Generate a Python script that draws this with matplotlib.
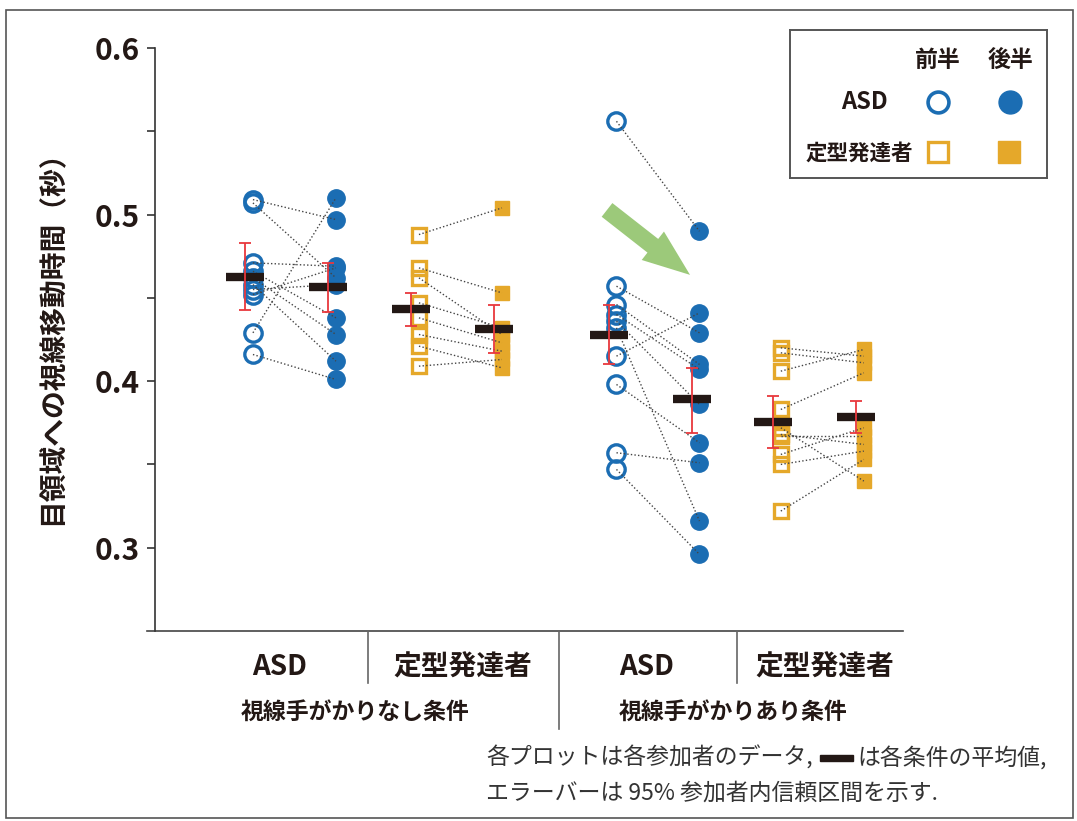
import numpy as np
import matplotlib
matplotlib.use('Agg')
import matplotlib.pyplot as plt
from matplotlib.patches import Rectangle
from matplotlib.transforms import blended_transform_factory

plt.rcParams['font.family'] = ['Noto Sans CJK JP', 'DejaVu Sans']

# gaze shift time to the eye region (sec); pre[i] and post[i] are the same participant
asd_none_pre = [0.509, 0.507, 0.471, 0.466, 0.462, 0.458, 0.452, 0.429, 0.416, 0.455]
asd_none_post = [0.497, 0.462, 0.469, 0.438, 0.428, 0.412, 0.468, 0.510, 0.401, 0.458]
td_none_pre = [0.488, 0.468, 0.462, 0.447, 0.438, 0.428, 0.421, 0.409]
td_none_post = [0.504, 0.453, 0.428, 0.432, 0.423, 0.418, 0.408, 0.413]
asd_cue_pre = [0.556, 0.457, 0.446, 0.440, 0.436, 0.432, 0.415, 0.398, 0.357, 0.347]
asd_cue_post = [0.490, 0.429, 0.410, 0.407, 0.386, 0.316, 0.441, 0.363, 0.351, 0.296]
td_cue_pre = [0.420, 0.417, 0.406, 0.383, 0.372, 0.367, 0.356, 0.350, 0.322, 0.368]
td_cue_post = [0.415, 0.411, 0.419, 0.405, 0.340, 0.367, 0.372, 0.358, 0.353, 0.362]

group_labels = ['ASD', '定型発達者', 'ASD', '定型発達者']
condition_labels = ['視線手がかりなし条件', '視線手がかりあり条件']

# condition means and 95% within-participant CI
mean_pre = [0.4626, 0.4434, 0.428, 0.3756]
mean_post = [0.4566, 0.4314, 0.389, 0.3786]
ci_pre_low = [0.443, 0.433, 0.410, 0.360]
ci_pre_high = [0.483, 0.453, 0.446, 0.391]
ci_post_low = [0.4416, 0.417, 0.369, 0.369]
ci_post_high = [0.471, 0.4458, 0.408, 0.388]

yticks = [0.3, 0.4, 0.5, 0.6]
yminor = [0.35, 0.45, 0.55]

BLUE = '#1b6db3'
GOLD = '#e5a82a'
DARK = '#231815'
RED = '#e8383d'
GREEN = '#9cc97a'

pre_vals = [asd_none_pre, td_none_pre, asd_cue_pre, td_cue_pre]
post_vals = [asd_none_post, td_none_post, asd_cue_post, td_cue_post]
centers = [0, 1, 2.19, 3.18]
colors = [BLUE, GOLD, BLUE, GOLD]
markers = ['o', 's', 'o', 's']
msizes = [12.5, 9.5, 12.5, 9.5]

W, H = 1077, 821
fig = plt.figure(figsize=(W / 100, H / 100), dpi=100)
ax = fig.add_axes([155 / W, 1 - 631 / H, 748 / W, 583 / H])

for g in range(4):
    xa = centers[g] - 0.25
    xb = centers[g] + 0.25
    pre = pre_vals[g]
    post = post_vals[g]
    ax.plot([xa] * len(pre), pre, ls='none', marker=markers[g], ms=msizes[g],
            mfc='none', mec=colors[g], mew=2.4, zorder=2)
    ax.plot([xb] * len(post), post, ls='none', marker=markers[g], ms=msizes[g],
            mfc=colors[g], mec=colors[g], mew=1, zorder=2)
    for a, b in zip(pre, post):
        ax.plot([xa, xb], [a, b], ls=(0, (1, 1.6)), lw=1, color='#444444', zorder=3)

    for x, m, lo, hi in [(xa, mean_pre[g], ci_pre_low[g], ci_pre_high[g]),
                         (xb, mean_post[g], ci_post_low[g], ci_post_high[g])]:
        xm = x - 0.048
        ax.plot([xm], [m], marker='_', ms=27, mew=6, color=DARK, zorder=4)
        ax.errorbar([xm], [m], yerr=[[m - lo], [hi - m]], fmt='none', ecolor=RED,
                    elinewidth=1.3, capsize=4, capthick=1.3, zorder=5)

ax.set_xlim(-0.840, 3.666)
ax.set_ylim(0.25, 0.6)
ax.set_xticks([])
ax.set_yticks(yticks)
ax.set_yticks(yminor, minor=True)
ax.set_yticklabels([f'{v:.1f}' for v in yticks], fontsize=21.5, fontweight='bold')
ax.tick_params(axis='y', which='both', direction='out', length=6, width=1.2,
               colors='#333333', pad=5)
ax.tick_params(axis='y', labelcolor=DARK)
for s in ['top', 'right', 'bottom']:
    ax.spines[s].set_visible(False)
ax.spines['left'].set_color('#333333')
ax.spines['left'].set_linewidth(1.2)

# baseline and group separators below the plot
ax.plot([-0.011, 1], [0, 0], transform=ax.transAxes, clip_on=False, color='#444444', lw=1.2)
bt = blended_transform_factory(ax.transData, ax.transAxes)
for x, depth in [(0.443, 0.089), (1.593, 0.168), (2.666, 0.089)]:
    ax.plot([x, x], [0, -depth], transform=bt, clip_on=False, color='#666666', lw=1.2)

for x, lab in zip([-0.087, 1.015, 2.123, 3.195], group_labels):
    ax.text(x, -0.062, lab, transform=bt, ha='center', va='center',
            fontsize=20, fontweight='bold', color=DARK)
for x, lab in zip([0.364, 2.641], condition_labels):
    ax.text(x, -0.139, lab, transform=bt, ha='center', va='center',
            fontsize=16.5, fontweight='bold', color=DARK)

# arrow pointing at the drop in the cue condition
ax.annotate('', xy=(2.383, 0.4638), xytext=(1.883, 0.5028),
            arrowprops=dict(arrowstyle='simple,head_length=34,head_width=26,tail_width=12.5',
                            mutation_scale=1, color=GREEN, shrinkA=0, shrinkB=0, lw=0),
            zorder=1)

fig.text(52 / W, 1 - 331 / H, '目領域への視線移動時間（秒）', rotation=90,
         ha='center', va='center', fontsize=20, fontweight='bold', color=DARK)

# legend box
lg = fig.add_axes([790 / W, 1 - 178 / H, 257 / W, 148 / H])
lg.set_xlim(790, 1047)
lg.set_ylim(178, 30)
lg.set_xticks([])
lg.set_yticks([])
for s in lg.spines.values():
    s.set_color('#555555')
    s.set_linewidth(1.4)
lg.text(938, 60, '前半', ha='center', va='center', fontsize=16.5, fontweight='bold', color=DARK)
lg.text(1010, 60, '後半', ha='center', va='center', fontsize=16.5, fontweight='bold', color=DARK)
lg.text(888, 102, 'ASD', ha='right', va='center', fontsize=17, fontweight='bold', color=DARK)
lg.text(913, 153, '定型発達者', ha='right', va='center', fontsize=15.5, fontweight='bold', color=DARK)
lg.plot([938], [102], marker='o', ms=15, mfc='none', mec=BLUE, mew=2.6)
lg.plot([1010], [102], marker='o', ms=16.5, mfc=BLUE, mec=BLUE)
lg.plot([938], [152], marker='s', ms=14, mfc='none', mec=GOLD, mew=2.4)
lg.plot([1009], [152], marker='s', ms=15.5, mfc=GOLD, mec=GOLD)

# footnote: first line has a small black bar standing for the mean marker
fs = 16.5
t1 = fig.text(486 / W, 1 - 758 / H, '各プロットは各参加者のデータ,', ha='left', va='center',
              fontsize=fs, color='#333333')
renderer = fig.canvas.get_renderer()
x_end = t1.get_window_extent(renderer).x1
bar_x0 = x_end + 7
fig.add_artist(Rectangle((bar_x0 / W, 1 - 761 / H), 33 / W, 6 / H,
                         transform=fig.transFigure, color=DARK))
fig.text((bar_x0 + 38) / W, 1 - 758 / H, 'は各条件の平均値,', ha='left', va='center',
         fontsize=fs, color='#333333')
fig.text(486 / W, 1 - 793 / H, 'エラーバーは 95% 参加者内信頼区間を示す.', ha='left', va='center',
         fontsize=fs, color='#333333')

# outer frame
fig.add_artist(Rectangle((6 / W, 1 - 818 / H), 1067 / W, 808 / H, transform=fig.transFigure,
                         fill=False, ec='#555555', lw=1.2))

fig.savefig('out.png', dpi=100)
